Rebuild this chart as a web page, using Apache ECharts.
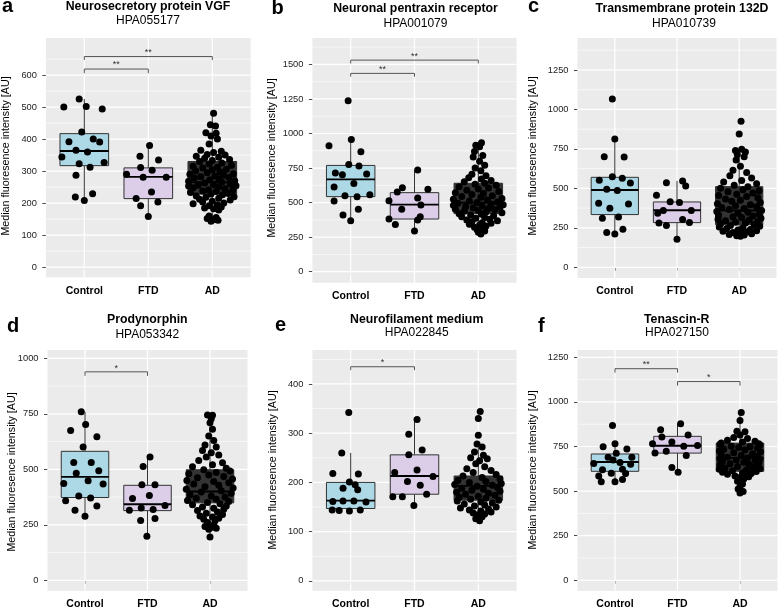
<!DOCTYPE html>
<html><head><meta charset="utf-8">
<script src="https://cdn.jsdelivr.net/npm/echarts@6/dist/echarts.min.js"></script>
<style>html,body{margin:0;padding:0;background:#fff}#c{width:778px;height:610px}</style>
</head><body><div id="c"></div>
<script>
// ---------- DATA ----------
const categories = ['Control', 'FTD', 'AD'];
const yTitle = 'Median fluoresence intensity [AU]';

// points: [jitter offset (category units), value]
const aTicks = [0, 100, 200, 300, 400, 500, 600];
const aCtrl = [[-0.32,500],[-0.08,525],[0.03,502],[0.28,494],[-0.04,422],[-0.24,392],[0.14,400],[0.24,391],[-0.35,344],[-0.13,365],[0.05,360],[0.31,327],[-0.08,323],[0.09,312],[-0.13,287],[-0.14,219],[0.13,229],[0.00,208]];
const aFtd = [[0.02,380],[-0.13,346],[0.16,335],[-0.12,311],[0.06,303],[-0.34,290],[-0.08,281],[0.28,281],[0.05,235],[-0.19,214],[0.15,203],[-0.12,192],[0.00,158]];
const aAd = [[0.02,481],[-0.03,445],[0.05,441],[-0.10,420],[0.06,418],[-0.02,410],[0.08,400],[-0.05,385],[-0.18,365],[0.14,362],[0.02,358],[-0.08,352],[0.20,350],[-0.25,346],[0.10,343],[-0.12,340],[0.27,336],[0.00,333],[-0.20,330],[0.15,325],[-0.05,322],[0.30,318],[-0.30,315],[0.08,312],[-0.15,310],[0.22,306],[0.00,304],[-0.26,300],[0.12,298],[-0.08,295],[0.33,292],[-0.35,290],[0.18,287],[0.04,285],[-0.18,282],[0.26,280],[-0.28,278],[0.10,276],[-0.04,273],[0.35,270],[-0.37,268],[0.15,265],[-0.12,263],[0.28,260],[0.02,258],[-0.22,256],[0.37,254],[-0.37,253],[0.10,250],[-0.30,248],[0.20,245],[-0.06,242],[0.32,240],[-0.15,238],[0.06,236],[-0.34,233],[0.25,230],[-0.02,228],[0.16,226],[-0.25,222],[0.34,220],[-0.10,218],[0.10,215],[-0.20,212],[0.28,210],[0.00,206],[-0.15,203],[0.18,200],[-0.30,198],[0.08,195],[-0.05,192],[0.14,188],[-0.12,185],[0.02,182],[0.10,178],[-0.05,160],[0.06,155],[-0.08,152],[0.02,148],[0.09,146],[-0.02,143]];
// box stats: [lower whisker, Q1, median, Q3, upper whisker]
const aBox = [[208,317,363,417,525],[158,214,282,310,380],[143,228,265,330,481]];
// brackets: [from, to, line y, tip y, label y, label]
const aBr = [[1,3,658,647,672,'**'],[1,2,619,606,633,'**']];

const bTicks = [0, 250, 500, 750, 1000, 1250, 1500];
const bCtrl = [[-0.04,1237],[0.01,957],[-0.34,912],[0.16,868],[-0.03,776],[0.13,764],[-0.24,714],[-0.13,702],[0.25,707],[-0.26,613],[0.05,639],[0.30,557],[-0.09,550],[0.10,543],[-0.26,511],[0.12,451],[-0.12,410],[0.00,369]];
const bFtd = [[0.05,736],[-0.19,608],[-0.27,576],[0.21,596],[0.05,533],[-0.40,514],[0.10,482],[-0.20,451],[0.09,398],[-0.40,381],[0.05,374],[-0.30,342],[0.00,294]];
const bAd = [[0.05,933],[-0.04,915],[0.02,905],[-0.06,870],[0.07,840],[-0.08,830],[0.02,800],[0.10,770],[-0.05,750],[0.04,730],[-0.10,705],[0.12,695],[-0.15,680],[0.05,670],[0.20,660],[-0.22,650],[0.10,640],[-0.05,632],[0.28,625],[-0.30,615],[0.16,605],[0.00,598],[-0.18,590],[0.32,580],[-0.36,572],[0.08,565],[-0.10,558],[0.22,550],[-0.26,545],[0.04,538],[0.37,530],[-0.39,525],[0.14,518],[-0.14,512],[0.30,505],[-0.02,500],[-0.32,495],[0.20,490],[0.39,485],[-0.39,480],[0.06,476],[-0.20,472],[0.34,468],[-0.08,462],[0.16,458],[-0.36,452],[0.26,448],[0.00,442],[-0.22,438],[0.12,432],[0.37,426],[-0.30,420],[0.05,415],[-0.12,410],[0.24,404],[-0.26,398],[0.10,392],[-0.04,386],[0.18,380],[-0.18,374],[0.30,368],[-0.10,362],[0.06,355],[0.20,350],[-0.14,344],[0.02,338],[0.12,330],[-0.06,322],[0.08,315],[-0.02,305],[0.10,295],[0.00,285],[0.04,273]];
const bBox = [[369,543,668,769,957],[294,381,485,572,736],[273,420,500,640,933]];
const bBr = [[1,3,1531,1507,1560,'**'],[1,2,1435,1411,1466,'**']];

const cTicks = [0, 250, 500, 750, 1000, 1250];
const cCtrl = [[-0.04,1066],[0.00,813],[-0.17,701],[0.15,699],[-0.25,551],[-0.04,574],[0.12,564],[0.25,534],[-0.13,494],[0.04,486],[-0.26,405],[0.22,401],[-0.08,374],[-0.20,310],[0.06,319],[0.13,241],[-0.13,220],[0.00,211]];
const cFtd = [[-0.17,536],[0.09,547],[0.14,515],[-0.33,456],[-0.11,416],[0.04,410],[-0.22,359],[0.23,359],[-0.31,342],[0.09,302],[0.20,283],[-0.29,281],[-0.17,264],[0.00,177]];
const cAd = [[0.03,925],[0.00,845],[0.04,748],[-0.06,740],[0.10,730],[-0.03,715],[0.08,700],[-0.05,680],[0.02,640],[-0.10,615],[0.12,600],[-0.15,580],[0.20,565],[0.04,550],[-0.25,540],[0.28,530],[-0.08,520],[0.14,510],[-0.30,500],[0.06,492],[0.32,485],[-0.18,478],[0.22,470],[-0.04,462],[-0.33,455],[0.12,448],[0.30,440],[-0.22,432],[0.02,425],[-0.12,418],[0.34,410],[-0.35,403],[0.18,396],[-0.06,390],[0.28,384],[-0.28,378],[0.08,372],[-0.16,366],[0.36,360],[-0.36,354],[0.14,348],[-0.02,342],[0.32,336],[-0.33,330],[0.22,325],[-0.10,320],[0.04,315],[0.35,310],[-0.34,305],[0.16,300],[-0.22,295],[0.30,290],[-0.06,285],[0.10,280],[-0.30,275],[0.24,270],[-0.14,265],[0.33,260],[-0.32,255],[0.06,250],[-0.20,245],[0.18,240],[-0.02,236],[0.28,232],[-0.26,228],[0.12,224],[-0.10,220],[0.04,216],[0.20,212],[-0.16,208],[0.08,204],[-0.04,200],[0.02,196]];
const cBox = [[211,334,490,570,813],[177,283,361,414,547],[196,270,360,511,748]];
const cBr = [];

const dTicks = [0, 250, 500, 750, 1000];
const dCtrl = [[-0.06,759],[0.01,702],[-0.23,675],[0.19,647],[-0.03,600],[-0.18,531],[0.10,531],[-0.14,482],[0.22,493],[0.05,448],[-0.34,436],[0.29,434],[-0.10,380],[0.09,371],[-0.31,358],[0.19,335],[-0.16,316],[0.00,289]];
const dFtd = [[0.04,555],[-0.07,513],[-0.09,430],[0.12,431],[0.03,382],[-0.24,368],[-0.10,326],[0.28,337],[-0.29,316],[0.09,319],[-0.11,269],[0.12,278],[-0.01,199]];
const dAd = [[-0.04,745],[0.04,744],[0.02,728],[0.00,710],[0.04,680],[-0.02,650],[0.06,630],[-0.08,610],[0.10,600],[-0.12,585],[0.02,575],[0.14,565],[-0.06,555],[-0.18,540],[0.20,530],[0.04,520],[-0.28,512],[0.26,505],[-0.10,498],[0.32,492],[0.10,486],[-0.34,480],[-0.02,474],[0.22,468],[-0.20,462],[0.36,456],[-0.37,450],[0.06,445],[0.30,440],[-0.26,434],[0.14,428],[-0.08,422],[0.37,416],[-0.38,410],[0.18,404],[-0.14,398],[0.34,392],[-0.32,386],[0.02,380],[0.24,375],[-0.22,370],[0.10,365],[-0.36,360],[0.30,355],[-0.04,350],[0.16,345],[-0.28,340],[0.26,335],[-0.12,330],[0.06,325],[0.22,320],[-0.20,314],[0.12,308],[-0.06,302],[0.20,296],[-0.16,290],[0.04,285],[0.14,280],[-0.10,275],[0.08,268],[-0.04,260],[0.06,250],[-0.08,242],[0.02,238],[0.10,235],[-0.02,230],[0.00,195]];
const dBox = [[289,373,466,581,759],[199,314,343,428,555],[195,349,400,498,745]];
const dBr = [[1,2,939,921,955,'*']];

const eTicks = [0, 100, 200, 300, 400];
const eCtrl = [[-0.03,342],[-0.14,260],[-0.28,218],[0.12,217],[-0.02,201],[0.07,195],[-0.12,188],[0.11,185],[-0.28,161],[-0.12,162],[0.05,162],[0.24,160],[-0.29,144],[-0.18,143],[-0.02,142],[0.15,144]];
const eFtd = [[0.04,328],[-0.09,298],[0.12,266],[-0.09,256],[-0.31,220],[0.04,225],[-0.11,202],[0.09,194],[0.29,212],[-0.34,171],[-0.19,171],[0.19,176],[-0.01,153]];
const eAd = [[0.03,344],[0.00,330],[0.00,296],[-0.02,278],[0.06,272],[-0.06,262],[0.08,255],[-0.12,250],[0.14,248],[0.02,244],[-0.04,238],[0.10,232],[-0.18,228],[0.20,224],[-0.08,220],[0.28,216],[-0.24,213],[0.06,210],[0.34,207],[-0.32,204],[0.12,202],[-0.14,200],[0.36,198],[-0.37,196],[0.22,194],[-0.02,192],[0.30,190],[-0.26,188],[0.08,186],[-0.10,184],[0.34,182],[-0.34,180],[0.16,178],[-0.20,176],[0.26,174],[0.00,172],[-0.30,170],[0.12,168],[-0.12,166],[0.32,164],[-0.33,162],[0.04,160],[0.22,158],[-0.22,156],[0.10,154],[-0.06,152],[0.28,150],[-0.28,148],[0.16,146],[-0.14,144],[0.04,142],[0.20,140],[-0.08,138],[0.10,136],[-0.02,134],[0.06,130],[-0.04,126],[0.02,122]];
const eBox = [[142,147,163,200,260],[153,176,213,256,328],[122,164,193,213,278]];
const eBr = [[1,2,435,428,443,'*']];

const fTicks = [0, 250, 500, 750, 1000, 1250];
const fCtrl = [[-0.04,868],[0.00,765],[-0.19,748],[0.19,736],[0.02,712],[-0.11,690],[0.27,690],[-0.03,675],[-0.34,655],[0.08,660],[0.25,650],[-0.20,620],[0.12,622],[-0.06,600],[0.17,598],[-0.26,585],[0.12,565],[-0.22,553],[0.00,553]];
const fFtd = [[0.05,877],[-0.27,844],[0.17,814],[-0.25,803],[-0.09,775],[-0.40,766],[0.32,755],[0.10,751],[-0.18,723],[-0.36,713],[0.14,700],[-0.09,633],[0.01,605]];
const fAd = [[0.02,941],[0.00,896],[-0.05,836],[0.08,832],[0.00,815],[-0.10,800],[0.12,795],[-0.20,785],[0.24,780],[0.04,775],[-0.30,770],[0.30,765],[-0.32,762],[0.32,758],[-0.14,752],[0.16,748],[-0.02,744],[0.28,740],[-0.26,735],[0.08,730],[-0.33,725],[0.33,720],[-0.10,715],[0.20,710],[-0.30,705],[0.02,700],[0.28,695],[-0.20,690],[0.12,686],[-0.32,682],[0.32,678],[-0.06,674],[0.24,670],[-0.28,666],[0.06,662],[0.30,658],[-0.16,654],[0.14,650],[-0.32,646],[0.28,642],[-0.04,638],[0.20,634],[-0.24,630],[0.32,626],[-0.33,622],[0.10,618],[-0.12,614],[0.26,610],[-0.28,606],[0.04,602],[0.18,598],[-0.20,594],[0.08,590],[-0.08,585],[0.14,580],[-0.02,575],[0.06,568],[-0.04,555],[0.04,540],[0.00,525],[-0.03,512],[0.05,498],[0.00,490]];
const fBox = [[553,611,663,708,765],[605,713,754,807,877],[490,611,686,769,941]];
const fBr = [[1,2,1186,1164,1211,'**'],[2,3,1114,1091,1138,'*']];

const letters = ['a','b','c','d','e','f'];
const titles = ['Neurosecretory protein VGF','Neuronal pentraxin receptor','Transmembrane protein 132D','Prodynorphin','Neurofilament medium','Tenascin-R'];
const subtitles = ['HPA055177','HPA001079','HPA010739','HPA053342','HPA022845','HPA027150'];

// ---------- LAYOUT / STYLE ----------
const FONT = '"Liberation Sans", Arial, Helvetica, sans-serif';
const boxFill = ['#ADD8E6', '#DCCEE8', '#333333'];
const panels = [
  {ticks:aTicks, box:aBox, pts:[aCtrl,aFtd,aAd], br:aBr, grid:{left:45.9, top:38, width:204.8, height:239.3}, yMin:-32, yMax:716,
   letter:[2,6.5], title:[148,6.5], sub:[148,21], ytitle:[6,156]},
  {ticks:bTicks, box:bBox, pts:[bCtrl,bFtd,bAd], br:bBr, grid:{left:312.4, top:38, width:204.2, height:244.7}, yMin:-79.6, yMax:1691,
   letter:[271.5,8], title:[415.5,9], sub:[415.5,23.3], ytitle:[272.5,158]},
  {ticks:cTicks, box:cBox, pts:[cCtrl,cFtd,cAd], br:cBr, grid:{left:577.5, top:38, width:199, height:240}, yMin:-67.8, yMax:1452.5,
   letter:[528,6.5], title:[682,9], sub:[684,23.3], ytitle:[533,156]},
  {ticks:dTicks, box:dBox, pts:[dCtrl,dFtd,dAd], br:dBr, grid:{left:47.5, top:350, width:200, height:241.7}, yMin:-48, yMax:1037.3,
   letter:[7,326], title:[147.3,319.7], sub:[147.3,334.7], ytitle:[12,472]},
  {ticks:eTicks, box:eBox, pts:[eCtrl,eFtd,eAd], br:eBr, grid:{left:312.4, top:350, width:204.2, height:240.7}, yMin:-20, yMax:469,
   letter:[275,325], title:[416.7,319.5], sub:[416.7,333], ytitle:[273,470]},
  {ticks:fTicks, box:fBox, pts:[fCtrl,fFtd,fAd], br:fBr, grid:{left:577.5, top:350, width:200, height:241.7}, yMin:-59.8, yMax:1290.8,
   letter:[538,326], title:[676.7,319.5], sub:[677,333], ytitle:[533,470]}
];

const grids = [], xAxes = [], yAxes = [], series = [], graphics = [];

panels.forEach((p, i) => {
  grids.push(Object.assign({show:true, backgroundColor:'#EBEBEB', borderWidth:0, containLabel:false}, p.grid));
  xAxes.push({
    gridIndex:i, type:'value', min:0.4, max:3.6,
    axisLine:{show:false}, splitLine:{show:false},
    axisTick:{show:true, customValues:[1,2,3], length:3.5, lineStyle:{color:'#333', width:0.9}},
    axisLabel:{customValues:[1,2,3], formatter:v => categories[Math.round(v)-1] || '', margin:8,
      fontFamily:FONT, fontSize:10.5, fontWeight:'bold', color:'#000'}
  });
  yAxes.push({
    gridIndex:i, type:'value', min:p.yMin, max:p.yMax,
    axisLine:{show:false}, splitLine:{show:false},
    axisTick:{show:true, customValues:p.ticks, length:3.5, lineStyle:{color:'#333', width:0.9}},
    axisLabel:{customValues:p.ticks, formatter:v => String(Math.round(v)), margin:9, fontFamily:FONT, fontSize:9.3, color:'#222'}
  });
  const step = p.ticks[1] - p.ticks[0];
  const minor = [];
  for (let k = 0; k < p.ticks.length; k++) {
    const m = p.ticks[k] + step/2;
    if (m < p.yMax) minor.push(m);
  }
  // grid lines
  series.push({
    type:'custom', xAxisIndex:i, yAxisIndex:i, z:1, silent:true, data:[[2, p.ticks[1]]],
    renderItem:(params, api) => {
      const cs = params.coordSys, ch = [];
      minor.forEach(v => { const y = api.coord([2, v])[1];
        ch.push({type:'line', shape:{x1:cs.x, y1:y, x2:cs.x+cs.width, y2:y}, style:{stroke:'#FFFFFF', lineWidth:0.6}}); });
      p.ticks.forEach(v => { const y = api.coord([2, v])[1];
        ch.push({type:'line', shape:{x1:cs.x, y1:y, x2:cs.x+cs.width, y2:y}, style:{stroke:'#FFFFFF', lineWidth:1.2}}); });
      [1,2,3].forEach(c => { const x = api.coord([c, 0])[0];
        ch.push({type:'line', shape:{x1:x, y1:cs.y, x2:x, y2:cs.y+cs.height}, style:{stroke:'#FFFFFF', lineWidth:1.2}}); });
      return {type:'group', children:ch};
    }
  });
  // boxes
  series.push({
    type:'custom', xAxisIndex:i, yAxisIndex:i, z:2, silent:true,
    data:p.box.map((b, k) => [k+1].concat(b)),
    renderItem:(params, api) => {
      const x = api.value(0);
      const pl = api.coord([x, api.value(1)]), p1 = api.coord([x, api.value(2)]),
            pm = api.coord([x, api.value(3)]), p3 = api.coord([x, api.value(4)]), ph = api.coord([x, api.value(5)]);
      const hw = api.size([0.38, 0])[0];
      const cx = pl[0];
      return {type:'group', children:[
        {type:'line', shape:{x1:cx, y1:ph[1], x2:cx, y2:p3[1]}, style:{stroke:'#333', lineWidth:1}},
        {type:'line', shape:{x1:cx, y1:p1[1], x2:cx, y2:pl[1]}, style:{stroke:'#333', lineWidth:1}},
        {type:'rect', shape:{x:cx-hw, y:p3[1], width:2*hw, height:p1[1]-p3[1]}, style:{fill:boxFill[params.dataIndex], stroke:'#333', lineWidth:1}},
        {type:'line', shape:{x1:cx-hw, y1:pm[1], x2:cx+hw, y2:pm[1]}, style:{stroke:'#000', lineWidth:1.9}}
      ]};
    }
  });
  // points
  const pd = [];
  p.pts.forEach((arr, k) => arr.forEach(q => pd.push([k+1+q[0], q[1]])));
  series.push({type:'scatter', xAxisIndex:i, yAxisIndex:i, z:3, silent:true, symbol:'circle', symbolSize:7,
    itemStyle:{color:'#000', opacity:1}, data:pd});
  // significance brackets
  if (p.br.length) {
    series.push({
      type:'custom', xAxisIndex:i, yAxisIndex:i, z:4, silent:true,
      data:p.br.map(b => [b[0], b[1], b[2], b[3], b[4]]),
      renderItem:(params, api) => {
        const a = api.coord([api.value(0), api.value(2)]), b = api.coord([api.value(1), api.value(2)]);
        const ta = api.coord([api.value(0), api.value(3)]), tb = api.coord([api.value(1), api.value(3)]);
        const lab = api.coord([(api.value(0)+api.value(1))/2, api.value(4)]);
        return {type:'group', children:[
          {type:'polyline', shape:{points:[[ta[0],ta[1]],[a[0],a[1]],[b[0],b[1]],[tb[0],tb[1]]]}, style:{stroke:'#555', lineWidth:1, fill:null}},
          {type:'text', style:{text:p.br[params.dataIndex][5], x:lab[0], y:lab[1], align:'center', verticalAlign:'middle',
            fontFamily:FONT, fontSize:9, fill:'#333'}}
        ]};
      }
    });
  }
  graphics.push({type:'text', x:p.letter[0], y:p.letter[1], style:{text:letters[i], align:'left', verticalAlign:'middle',
    fontFamily:FONT, fontSize:20, fontWeight:'bold', fill:'#000'}});
  graphics.push({type:'text', x:p.title[0], y:p.title[1], style:{text:titles[i], align:'center', verticalAlign:'middle',
    fontFamily:FONT, fontSize:12.3, fontWeight:'bold', fill:'#000'}});
  graphics.push({type:'text', x:p.sub[0], y:p.sub[1], style:{text:subtitles[i], align:'center', verticalAlign:'middle',
    fontFamily:FONT, fontSize:12, fill:'#000'}});
  graphics.push({type:'text', x:p.ytitle[0], y:p.ytitle[1], rotation:Math.PI/2, style:{text:yTitle, align:'center', verticalAlign:'middle',
    fontFamily:FONT, fontSize:10.7, fill:'#000'}});
});

const chart = echarts.init(document.getElementById('c'), null, {renderer:'canvas'});
chart.setOption({
  animation:false,
  backgroundColor:'#FFFFFF',
  grid:grids, xAxis:xAxes, yAxis:yAxes, series:series, graphic:graphics
});
</script></body></html>
